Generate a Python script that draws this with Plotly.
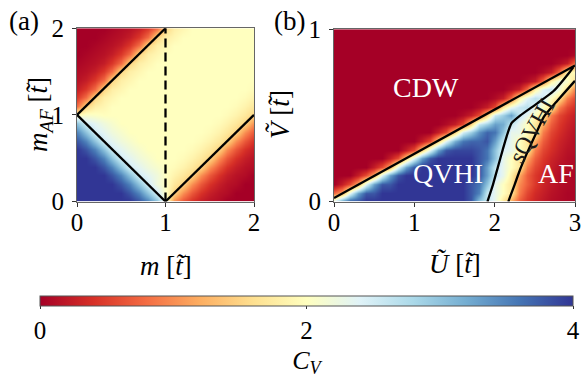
import plotly.graph_objects as go

# ---------------- data ----------------
# panel (a): grid of m (columns) and m_AF (rows), C_V
m_grid = [0.0, 0.1, 0.2, 0.3, 0.4, 0.5, 0.6, 0.7, 0.8, 0.9, 1.0,
          1.1, 1.2, 1.3, 1.4, 1.5, 1.6, 1.7, 1.8, 1.9, 2.0]
maf_grid = [0.0, 0.1, 0.2, 0.3, 0.4, 0.5, 0.6, 0.7, 0.8, 0.9, 1.0,
            1.1, 1.2, 1.3, 1.4, 1.5, 1.6, 1.7, 1.8, 1.9, 2.0]
cv_a_rows = [
    "4 4 4 4 4 4 4 3.8 3.5 3.0 2.0 1.0 0.65 0.4 0.25 0.15 0.1 0 0 0 0",
    "4 4 4 4 4 4 3.8 3.5 3.0 2.5 2.0 1.5 1.0 0.65 0.4 0.25 0.15 0.1 0 0 0",
    "4 4 4 4 4 3.8 3.5 3.0 2.5 2.2 2.0 1.7 1.5 1.0 0.65 0.4 0.25 0.15 0.1 0 0",
    "4 4 4 4 3.8 3.5 3.0 2.5 2.35 2.2 2.0 1.85 1.7 1.5 1.0 0.65 0.4 0.25 0.15 0.1 0",
    "4 4 4 3.8 3.5 3.0 2.5 2.35 2.2 2.1 2.0 1.95 1.85 1.7 1.5 1.0 0.65 0.4 0.25 0.15 0.1",
    "4 4 3.8 3.5 3.0 2.5 2.35 2.2 2.1 2.0 2.0 2.0 1.95 1.85 1.7 1.5 1.0 0.65 0.4 0.25 0.15",
    "4 3.8 3.5 3.0 2.5 2.35 2.2 2.1 2.0 2.0 2.0 2.0 2.0 1.95 1.85 1.7 1.5 1.0 0.65 0.4 0.25",
    "3.8 3.5 3.0 2.5 2.35 2.2 2.1 2.0 2.0 2.0 2.0 2.0 2.0 2.0 1.95 1.85 1.7 1.5 1.0 0.65 0.4",
    "3.5 3.0 2.5 2.35 2.2 2.1 2.0 2.0 2.0 2.0 2.0 2.0 2.0 2.0 2.0 1.95 1.85 1.7 1.5 1.0 0.65",
    "3.0 2.5 2.35 2.2 2.1 2.0 2.0 2.0 2.0 2.0 2.0 2.0 2.0 2.0 2.0 2.0 1.95 1.85 1.7 1.5 1.0",
    "2.0 2.1 2.05 2.0 2.0 2.0 2.0 2.0 2.0 2.0 2.0 2.0 2.0 2.0 2.0 2.0 2.0 1.95 1.85 1.7 1.5",
    "0.8 1.5 1.8 1.9 2.0 2.0 2.0 2.0 2.0 2.0 2.0 2.0 2.0 2.0 2.0 2.0 2.0 2.0 1.95 1.85 1.7",
    "0.45 0.8 1.5 1.8 1.9 2.0 2.0 2.0 2.0 2.0 2.0 2.0 2.0 2.0 2.0 2.0 2.0 2.0 2.0 1.95 1.85",
    "0.25 0.45 0.8 1.5 1.8 1.9 2.0 2.0 2.0 2.0 2.0 2.0 2.0 2.0 2.0 2.0 2.0 2.0 2.0 2.0 1.95",
    "0.15 0.25 0.45 0.8 1.5 1.8 1.9 2.0 2.0 2.0 2.0 2.0 2.0 2.0 2.0 2.0 2.0 2.0 2.0 2.0 2.0",
    "0.1 0.15 0.25 0.45 0.8 1.5 1.8 1.9 2.0 2.0 2.0 2.0 2.0 2.0 2.0 2.0 2.0 2.0 2.0 2.0 2.0",
    "0.05 0.1 0.15 0.25 0.45 0.8 1.5 1.8 1.9 2.0 2.0 2.0 2.0 2.0 2.0 2.0 2.0 2.0 2.0 2.0 2.0",
    "0 0.05 0.1 0.15 0.25 0.45 0.8 1.5 1.8 1.9 2.0 2.0 2.0 2.0 2.0 2.0 2.0 2.0 2.0 2.0 2.0",
    "0 0 0.05 0.1 0.15 0.25 0.45 0.8 1.5 1.8 1.9 2.0 2.0 2.0 2.0 2.0 2.0 2.0 2.0 2.0 2.0",
    "0 0 0 0.05 0.1 0.15 0.25 0.45 0.8 1.5 1.8 1.9 2.0 2.0 2.0 2.0 2.0 2.0 2.0 2.0 2.0",
    "0 0 0 0 0.05 0.1 0.15 0.25 0.45 0.8 1.5 1.8 1.9 2.0 2.0 2.0 2.0 2.0 2.0 2.0 2.0",
]
# phase boundaries, panel (a)
line_a_upper_m = [0, 1]
line_a_upper_maf = [1, 2]
line_a_lower_m = [0, 1]
line_a_lower_maf = [1, 0]
line_a_right_m = [1, 2]
line_a_right_maf = [0, 1]
dash_a_m = [1, 1]
dash_a_maf = [0, 2]

# panel (b): grid of U (columns) and V (rows)
u_grid = [0.0, 0.1, 0.2, 0.3, 0.4, 0.5, 0.6, 0.7, 0.8, 0.9, 1.0,
          1.1, 1.2, 1.3, 1.4, 1.5, 1.6, 1.7, 1.8, 1.9, 2.0,
          2.1, 2.2, 2.3, 2.4, 2.5, 2.6, 2.7, 2.8, 2.9, 3.0]
v_grid = [0.0, 0.05, 0.1, 0.15, 0.2, 0.25, 0.3, 0.35, 0.4, 0.45, 0.5,
          0.55, 0.6, 0.65, 0.7, 0.75, 0.8, 0.85, 0.9, 0.95, 1.0]
cv_b_rows = [
    "2.4 3.3 3.8 3.8 4 4 4 4 4 4 4 4 4 4 4 4 4 3.8 3.0 2.6 2.3 1.7 1.2 0.7 0.45 0.3 0.2 0.12 0.08 0.05 0.05",
    "0.8 1.2 2.4 3.3 3.8 3.8 4 4 4 4 4 4 4 4 4 4 4 3.8 3.5 2.6 2.3 2.0 1.7 0.9 0.55 0.35 0.25 0.15 0.1 0.05 0.05",
    "0 0.25 0.6 1.2 2.4 3.3 3.8 3.8 4 4 4 4 4 4 4 4 4 3.8 3.6 3.0 2.3 2.0 1.7 1.0 0.7 0.45 0.3 0.2 0.12 0.08 0.05",
    "0 0 0 0.25 0.6 1.2 2.4 3.3 3.8 4 4 4 4 4 4 4 4 4 3.8 3.3 2.6 2.3 1.8 1.2 0.7 0.45 0.3 0.2 0.12 0.08 0.05",
    "0 0 0 0 0 0.25 0.6 1.2 2.4 3.3 3.8 4 4 4 4 4 4 4 3.8 3.3 2.6 2.3 2.0 1.7 0.9 0.55 0.38 0.25 0.15 0.12 0.08",
    "0 0 0 0 0 0 0 0.25 0.6 1.5 2.4 3.3 3.8 4 4 4 4 4 3.8 3.6 3.0 2.3 2.0 1.7 1.2 0.7 0.45 0.3 0.2 0.12 0.08",
    "0 0 0 0 0 0 0 0 0 0.25 0.6 1.5 2.4 3.3 3.8 3.9 3.9 3.9 3.8 3.6 3.0 2.4 2.3 2.0 1.7 0.9 0.55 0.38 0.25 0.15 0.12",
    "0 0 0 0 0 0 0 0 0 0 0 0.25 0.6 1.5 2.4 3.2 3.6 3.7 3.7 3.8 3.3 2.6 2.3 2.0 1.7 1.2 0.7 0.45 0.3 0.2 0.12",
    "0 0 0 0 0 0 0 0 0 0 0 0 0 0.25 0.6 1.5 2.5 2.9 3.4 3.7 3.6 3.0 2.3 2.3 2.0 1.7 0.9 0.55 0.38 0.25 0.15",
    "0 0 0 0 0 0 0 0 0 0 0 0 0 0 0.1 0.25 0.6 1.5 2.6 2.9 3.3 3.2 2.6 2.3 2.0 1.7 1.2 0.7 0.45 0.3 0.2",
    "0 0 0 0 0 0 0 0 0 0 0 0 0 0 0 0 0.1 0.25 0.6 1.5 2.6 2.9 3.3 2.6 2.3 2.0 1.7 0.9 0.55 0.38 0.25",
    "0 0 0 0 0 0 0 0 0 0 0 0 0 0 0 0 0 0 0.1 0.25 0.6 1.7 2.3 2.6 2.7 2.3 2.0 1.7 0.9 0.55 0.38",
    "0 0 0 0 0 0 0 0 0 0 0 0 0 0 0 0 0 0 0 0 0.1 0.25 0.8 1.8 2.4 2.7 2.5 2.0 1.6 0.9 0.55",
    "0 0 0 0 0 0 0 0 0 0 0 0 0 0 0 0 0 0 0 0 0 0 0.1 0.25 0.8 1.8 2.4 2.6 2.2 1.6 0.9",
    "0 0 0 0 0 0 0 0 0 0 0 0 0 0 0 0 0 0 0 0 0 0 0 0 0.1 0.25 0.8 1.8 2.3 2.1 1.6",
    "0 0 0 0 0 0 0 0 0 0 0 0 0 0 0 0 0 0 0 0 0 0 0 0 0 0 0.1 0.25 0.8 1.8 2.0",
    "0 0 0 0 0 0 0 0 0 0 0 0 0 0 0 0 0 0 0 0 0 0 0 0 0 0 0 0 0.1 0.25 0.8",
    "0 0 0 0 0 0 0 0 0 0 0 0 0 0 0 0 0 0 0 0 0 0 0 0 0 0 0 0 0 0 0.1",
    "0 0 0 0 0 0 0 0 0 0 0 0 0 0 0 0 0 0 0 0 0 0 0 0 0 0 0 0 0 0 0",
    "0 0 0 0 0 0 0 0 0 0 0 0 0 0 0 0 0 0 0 0 0 0 0 0 0 0 0 0 0 0 0",
    "0 0 0 0 0 0 0 0 0 0 0 0 0 0 0 0 0 0 0 0 0 0 0 0 0 0 0 0 0 0 0",
]
# phase boundaries, panel (b)
cdw_u = [0.0, 3.0]
cdw_v = [0.02, 0.79]
sqvhi_left_u = [1.91, 1.98, 2.04, 2.10, 2.15, 2.21, 2.32, 2.53, 2.73, 2.94, 2.98]
sqvhi_left_v = [0.0, 0.10, 0.20, 0.30, 0.38, 0.455, 0.50, 0.57, 0.64, 0.755, 0.78]
sqvhi_right_u = [2.17, 2.25, 2.32, 2.44, 2.52, 2.61, 2.78, 2.98, 3.0]
sqvhi_right_v = [0.0, 0.10, 0.19, 0.32, 0.40, 0.49, 0.585, 0.69, 0.70]

# region labels in panel (b)
region_text = ["CDW", "QVHI", "AF"]
region_u = [1.15, 1.42, 2.76]
region_v = [0.66, 0.16, 0.16]
sq_label = "sQVHI"
sq_u, sq_v = 2.46, 0.41

ticks_m = [0, 1, 2]
ticks_u = [0, 1, 2, 3]
ticks_v = [0, 1]
cbar_ticks = [0, 2, 4]

# ---------------- figure ----------------
cv_a = [[float(s) for s in r.split()] for r in cv_a_rows]
cv_b = [[float(s) for s in r.split()] for r in cv_b_rows]

W, H = 582, 379
FONT = "Liberation Serif"


def fx(p):
    return p / W


def fy(p):
    return 1 - p / H


rdylbu = [[0.0, "#a50026"], [0.1, "#d73027"], [0.2, "#f46d43"], [0.3, "#fdae61"],
          [0.4, "#fee090"], [0.5, "#ffffbf"], [0.6, "#e0f3f8"], [0.7, "#abd9e9"],
          [0.8, "#74add1"], [0.9, "#4575b4"], [1.0, "#313695"]]

fig = go.Figure()
fig.add_trace(go.Heatmap(x=m_grid, y=maf_grid, z=cv_a, coloraxis="coloraxis",
                         zsmooth="best", xaxis="x", yaxis="y", hoverinfo="skip"))
fig.add_trace(go.Heatmap(x=u_grid, y=v_grid, z=cv_b, coloraxis="coloraxis",
                         zsmooth="best", xaxis="x2", yaxis="y2", hoverinfo="skip"))

lk = dict(color="black", width=2.3)
for xs, ys in [(line_a_upper_m, line_a_upper_maf), (line_a_lower_m, line_a_lower_maf),
               (line_a_right_m, line_a_right_maf)]:
    fig.add_trace(go.Scatter(x=xs, y=ys, mode="lines", line=lk, xaxis="x", yaxis="y",
                             showlegend=False, hoverinfo="skip"))
fig.add_trace(go.Scatter(x=dash_a_m, y=dash_a_maf, mode="lines",
                         line=dict(color="black", width=2.3, dash="9px,5px"),
                         xaxis="x", yaxis="y", showlegend=False, hoverinfo="skip"))
for xs, ys in [(cdw_u, cdw_v), (sqvhi_left_u, sqvhi_left_v), (sqvhi_right_u, sqvhi_right_v)]:
    fig.add_trace(go.Scatter(x=xs, y=ys, mode="lines",
                             line=dict(color="black", width=2.3, shape="spline", smoothing=0.5),
                             xaxis="x2", yaxis="y2", showlegend=False, hoverinfo="skip"))

tickfont = dict(family=FONT, size=25, color="black")
axcommon = dict(ticks="outside", ticklen=4, tickwidth=1, tickcolor="#333",
                showline=True, linecolor="#666", linewidth=1, mirror=True,
                showgrid=False, zeroline=False, tickfont=tickfont, automargin=False)
xcommon = dict(ticklabelstandoff=-6, **axcommon)
ycommon = dict(ticklabelstandoff=3, **axcommon)

fig.update_layout(
    width=W, height=H, margin=dict(l=0, r=0, t=0, b=0),
    paper_bgcolor="white", plot_bgcolor="white", showlegend=False,
    xaxis=dict(domain=[fx(77), fx(254)], range=[0, 2], tickvals=ticks_m, anchor="y", **xcommon),
    yaxis=dict(domain=[fy(207), fy(29)], range=[0, 2], tickvals=ticks_m, anchor="x", **ycommon),
    xaxis2=dict(domain=[fx(334), fx(575)], range=[0, 3], tickvals=ticks_u, anchor="y2", **xcommon),
    yaxis2=dict(domain=[fy(207), fy(30)], range=[0, 1], tickvals=ticks_v, anchor="x2", **ycommon),
    coloraxis=dict(
        cmin=0, cmax=4, colorscale=rdylbu,
        colorbar=dict(orientation="h", x=fx(306.5), xanchor="center", y=fy(304), yanchor="top",
                      len=533 / W, lenmode="fraction", thickness=10, thicknessmode="pixels",
                      outlinewidth=1, outlinecolor="#555", xpad=0, ypad=0,
                      tickvals=cbar_ticks, ticks="outside", ticklen=3, tickcolor="#333",
                      tickfont=tickfont,
                      title=dict(text="<i>C</i><sub><i>V</i></sub>", side="bottom",
                                 font=dict(family=FONT, size=26, color="black"))),
    ),
)


def note(text, x, y, size, color="black", xref="paper", yref="paper", angle=0):
    return dict(text=text, x=x, y=y, xref=xref, yref=yref, showarrow=False,
                xanchor="center", yanchor="middle", textangle=angle,
                font=dict(family=FONT, size=size, color=color))


ann = [
    note("(a)", fx(24), fy(22), 27),
    note("(b)", fx(289), fy(22), 27),
    note("<i>m</i> [<i>t\u0303</i>]", fx(165.5), fy(273), 27),
    note("<i>\u0168</i> [<i>t\u0303</i>]", fx(454.5), fy(271), 27),
    note("<i>m</i><sub><i>AF</i></sub> [<i>t\u0303</i>]", fx(40), fy(118), 27, angle=-90),
    note("<i>\u1E7C</i> [<i>t\u0303</i>]", fx(280), fy(118), 27, angle=-90),
]
for t, u, v in zip(region_text, region_u, region_v):
    ann.append(note(t, u, v, 28, color="white", xref="x2", yref="y2"))
ann.append(note(sq_label, sq_u, sq_v, 24, color="#1a1a1a", xref="x2", yref="y2", angle=-61))
fig.update_layout(annotations=ann)

fig.write_html("out.html")
